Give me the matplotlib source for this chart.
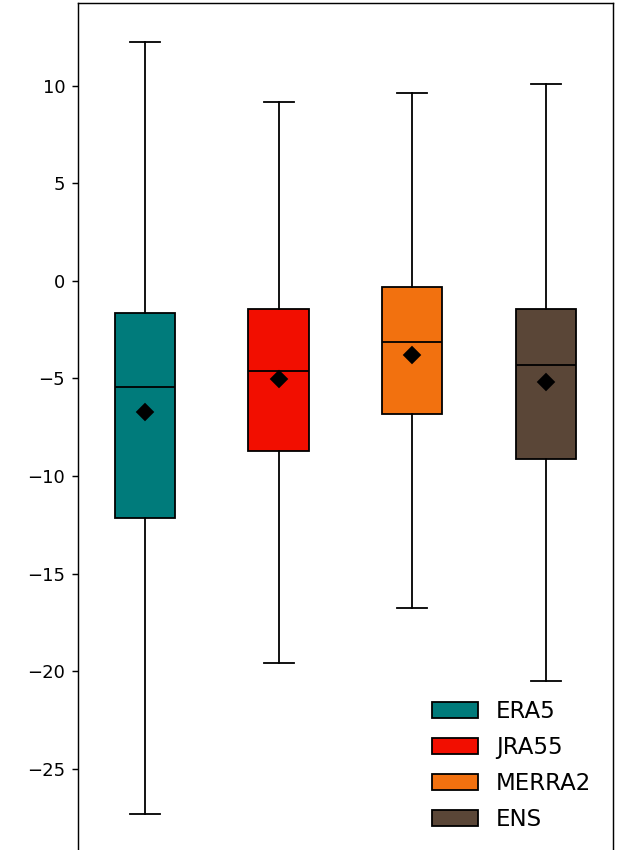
import matplotlib.pyplot as plt
from matplotlib.patches import Patch

# box statistics per dataset
names = ['ERA5', 'JRA55', 'MERRA2', 'ENS']
colors = ['#007b7b', '#f20e00', '#f2710f', '#5a4637']
whislo = [-27.3, -19.55, -16.75, -20.5]
q1 = [-12.15, -8.7, -6.8, -9.1]
med = [-5.45, -4.6, -3.15, -4.3]
mean = [-6.7, -5.05, -3.8, -5.2]
q3 = [-1.65, -1.45, -0.3, -1.45]
whishi = [12.25, 9.15, 9.6, 10.1]

stats = []
for i, name in enumerate(names):
    stats.append({'label': name, 'whislo': whislo[i], 'q1': q1[i], 'med': med[i],
                  'mean': mean[i], 'q3': q3[i], 'whishi': whishi[i], 'fliers': []})

fig = plt.figure(figsize=(618 / 130, 850 / 130), dpi=130)
ax = fig.add_axes([0.126, -0.003, 0.866, 0.9995])

bp = ax.bxp(stats, positions=[1, 2, 3, 4], widths=0.45, patch_artist=True,
            showmeans=True,
            medianprops=dict(color='black'),
            meanprops=dict(marker='D', markerfacecolor='black',
                           markeredgecolor='black', markersize=6.5),
            boxprops=dict(edgecolor='black'))
for box, c in zip(bp['boxes'], colors):
    box.set_facecolor(c)

ax.set_xlim(0.5, 4.5)
ax.set_ylim(-29.28, 14.23)
ax.set_xticks([])

handles = [Patch(facecolor=c, edgecolor='black', label=n) for n, c in zip(names, colors)]
ax.legend(handles=handles, loc='lower right', frameon=False, fontsize=12.7,
          labelspacing=0.57, handlelength=2.0, borderaxespad=0.55)

fig.savefig('out.png', dpi=130)
